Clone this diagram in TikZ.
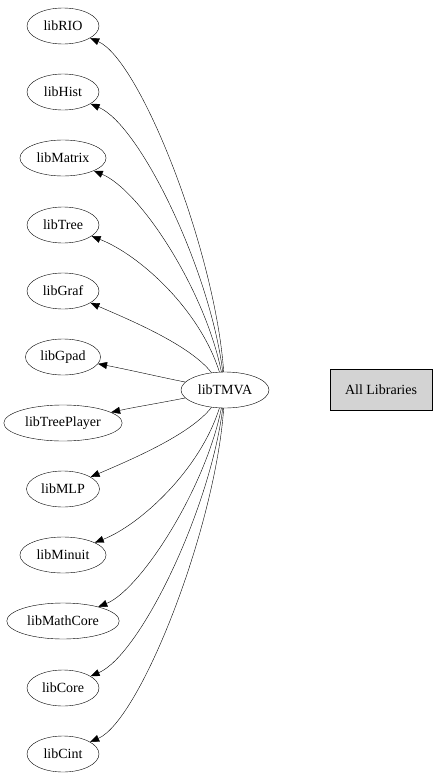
\documentclass[tikz,border=0pt]{standalone}
\usepackage{fontspec}
\setmainfont{Liberation Serif}
\usetikzlibrary{shapes.geometric,arrows.meta}

\definecolor{legendgray}{RGB}{211,211,211}
\tikzset{
  lib/.style={draw,ellipse,thin,minimum width=72pt,minimum height=36pt,inner xsep=4pt,
    font=\fontsize{14}{16}\selectfont},
  dep/.style={thin,-{Triangle[length=9pt,width=7pt]}}
}

\begin{document}
\begin{tikzpicture}[x=1pt,y=-1pt]
        \useasboundingbox (0,0) rectangle (437,779);
        % Libraries used by libTMVA
        \node[lib] (rio) at (63,26) {libRIO};
        \node[lib] (hist) at (63,92) {libHist};
        \node[lib] (matrix) at (63,158) {libMatrix};
        \node[lib] (tree) at (63,225) {libTree};
        \node[lib] (graf) at (63,291) {libGraf};
        \node[lib] (gpad) at (63,357) {libGpad};
        \node[lib] (treeplayer) at (63,423) {libTreePlayer};
        \node[lib] (mlp) at (63,489) {libMLP};
        \node[lib] (minuit) at (63,555) {libMinuit};
        \node[lib] (mathcore) at (63,621) {libMathCore};
        \node[lib] (core) at (63,688) {libCore};
        \node[lib] (cint) at (63,754) {libCint};
        % The library itself
        \node[lib] (tmva) at (225,390) {libTMVA};
        % Legend box
        \node[draw,thin,fill=legendgray,minimum width=102pt,minimum height=41pt,
          font=\fontsize{14}{16}\selectfont] (all) at (381,390) {All Libraries};
        % Dependencies
        \foreach \t/\ax/\ay/\bx/\by in {rio/215/250/140/60, hist/210/270/140/125,
            matrix/205/290/140/190, tree/200/310/140/255, graf/190/345/130/320,
            gpad/160/377/130/370, treeplayer/160/403/135/407, mlp/190/435/130/460,
            minuit/200/470/140/525, mathcore/205/490/140/590, core/210/510/140/655,
            cint/215/530/140/720}
          \draw[dep] (tmva) .. controls (\ax,\ay) and (\bx,\by) .. (\t);
\end{tikzpicture}
\end{document}
